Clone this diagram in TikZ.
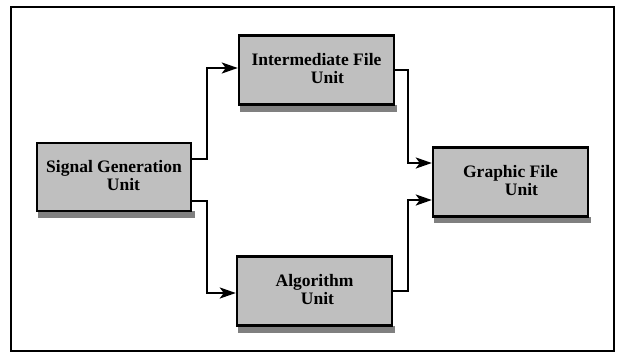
\documentclass[tikz,border=0pt]{standalone}
\usepackage{fontspec}
\setmainfont{Liberation Serif}
\usetikzlibrary{arrows.meta}
\newcommand{\twolines}[3]{\raisebox{-2pt}{\begin{tabular}{@{}c@{}}#1\\[-2pt]\hspace*{#3}#2\end{tabular}}}
\tikzset{
  unitbox/.style={draw=black, line width=2.4pt, fill=black!25, rectangle,
    minimum width=155pt, minimum height=69pt, inner sep=0pt, align=center,
    font=\fontsize{17.5}{20}\selectfont\bfseries},
  shadowband/.style={fill=black!50, draw=none},
  conn/.style={line width=2.4pt, draw=black},
  arr/.style={conn, -{Stealth[length=16pt,width=11pt,inset=4pt]}},
}
\begin{document}
\begin{tikzpicture}[x=1pt,y=-1pt]
\useasboundingbox (0,0) rectangle (621,356);
\fill[white] (0,0) rectangle (621,356);
\draw[line width=2.6pt] (11,7) rectangle (614,351);
% shadows
\fill[shadowband] (38,211) rectangle (195,218);
\fill[shadowband] (240,105) rectangle (397,112);
\fill[shadowband] (434,217) rectangle (591,223);
\fill[shadowband] (238,326) rectangle (395,333);
% boxes
\node[unitbox, minimum width=154pt, minimum height=68pt] (sig) at (114,177) {\twolines{Signal Generation}{Unit}{19pt}};
\node[unitbox] (inter) at (316.5,70) {\twolines{Intermediate File}{Unit}{22pt}};
\node[unitbox] (gra) at (510.5,182) {\twolines{Graphic File}{Unit}{22pt}};
\node[unitbox] (alg) at (314.5,291) {\twolines{Algorithm}{Unit}{6pt}};
% junction columns
\coordinate (jl) at (207,0);
\coordinate (jr) at (408,0);
\coordinate (s1) at ([yshift=18pt]sig.east);
\coordinate (s2) at ([yshift=-24pt]sig.east);
\coordinate (g1) at ([yshift=19pt]gra.west);
\coordinate (g2) at ([yshift=-18pt]gra.west);
% connectors
\draw[arr] (s1) -- (s1 -| jl) |- ([yshift=2pt]inter.west);
\draw[arr] (s2) -- (s2 -| jl) |- ([yshift=-2pt]alg.west);
\draw[arr] (inter.east) -- (inter.east -| jr) |- (g1);
\draw[arr] (alg.east) -- (alg.east -| jr) |- (g2);
\end{tikzpicture}
\end{document}
